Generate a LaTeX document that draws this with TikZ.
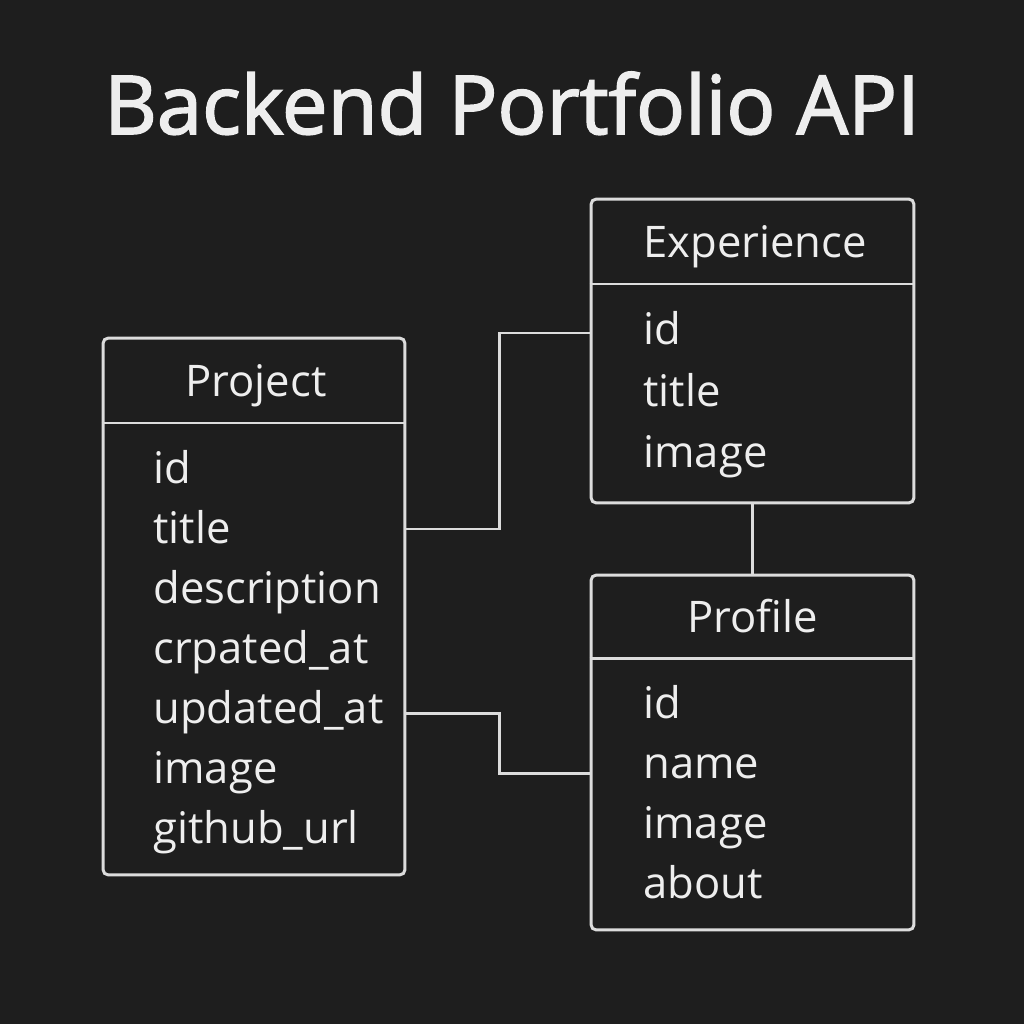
\documentclass[tikz,border=0pt]{standalone}
\usepackage{fontspec}
\setmainfont{Open Sans}
\IfFontExistsTF{Open Sans SemiBold}
  {\newfontfamily\titlefont{Open Sans SemiBold}}
  {\newfontfamily\titlefont[FakeBold=2]{Open Sans}}
\usetikzlibrary{positioning}

\definecolor{bgdark}{HTML}{1E1E1E}
\definecolor{linegray}{HTML}{DCDCDC}
\definecolor{textgray}{HTML}{EEEEEE}

\begin{document}
\begin{tikzpicture}[
      x=0.02cm, y=-0.02cm,
      every node/.style={text=textgray, inner sep=0pt},
      tbl/.style={draw=linegray, line width=1.7pt, rounded corners=3pt},
      hdr/.style={font=\fontsize{24.8}{30}\selectfont, anchor=base},
      fld/.style={font=\fontsize{24.8}{30}\selectfont, anchor=base west},
      sep/.style={draw=linegray, line width=1.7pt},
      link/.style={draw=linegray, line width=1.7pt}
    ]
    % Fundo
    \fill[bgdark] (0,0) rectangle (1024,1024);

    % Titulo
    \node[font=\titlefont\fontsize{46.3}{54}\selectfont, anchor=base] (title) at (512,134)
      {Backend Portfolio API};

    % Tabelas
    \node[tbl, minimum width=6.04cm, minimum height=10.74cm] (project)    at (254,606.5) {};
    \node[tbl, minimum width=6.46cm, minimum height=6.08cm]  (experience) at (752.5,351) {};
    \node[tbl, minimum width=6.46cm, minimum height=7.10cm]  (profile)    at (752.5,752.5) {};

    % Linhas de cabecalho
    \draw[sep] (project.west |- 0,423)    -- (project.east |- 0,423);
    \draw[sep] (experience.west |- 0,284) -- (experience.east |- 0,284);
    \draw[sep] (profile.west |- 0,658)    -- (profile.east |- 0,658);

    % Nomes das tabelas
    \node[hdr] (projectT)    at (256,396)   {Project};
    \node[hdr] (experienceT) at (755,257)   {Experience};
    \node[hdr] (profileT)    at (752.5,632) {Profile};

    % Campos
    \foreach \f [count=\i] in {id,title,description,crpated\_at,updated\_at,image,github\_url}{
      \node[fld] (pf\i) at (153,423+60*\i) {\f};
    }
    \foreach \f [count=\i] in {id,title,image}{
      \node[fld] (ef\i) at (643,283+61.5*\i) {\f};
    }
    \foreach \f [count=\i] in {id,name,image,about}{
      \node[fld] (rf\i) at (643,658+60*\i) {\f};
    }

    % Ligacoes
    \draw[link] (project.east |- 0,529) -- (499,529) |- (experience.west |- 0,333);
    \draw[link] (experience.south) -- (profile.north);
    \draw[link] (project.east |- 0,713) -- (499,713) |- (profile.west |- 0,773);
  \end{tikzpicture}
\end{document}
